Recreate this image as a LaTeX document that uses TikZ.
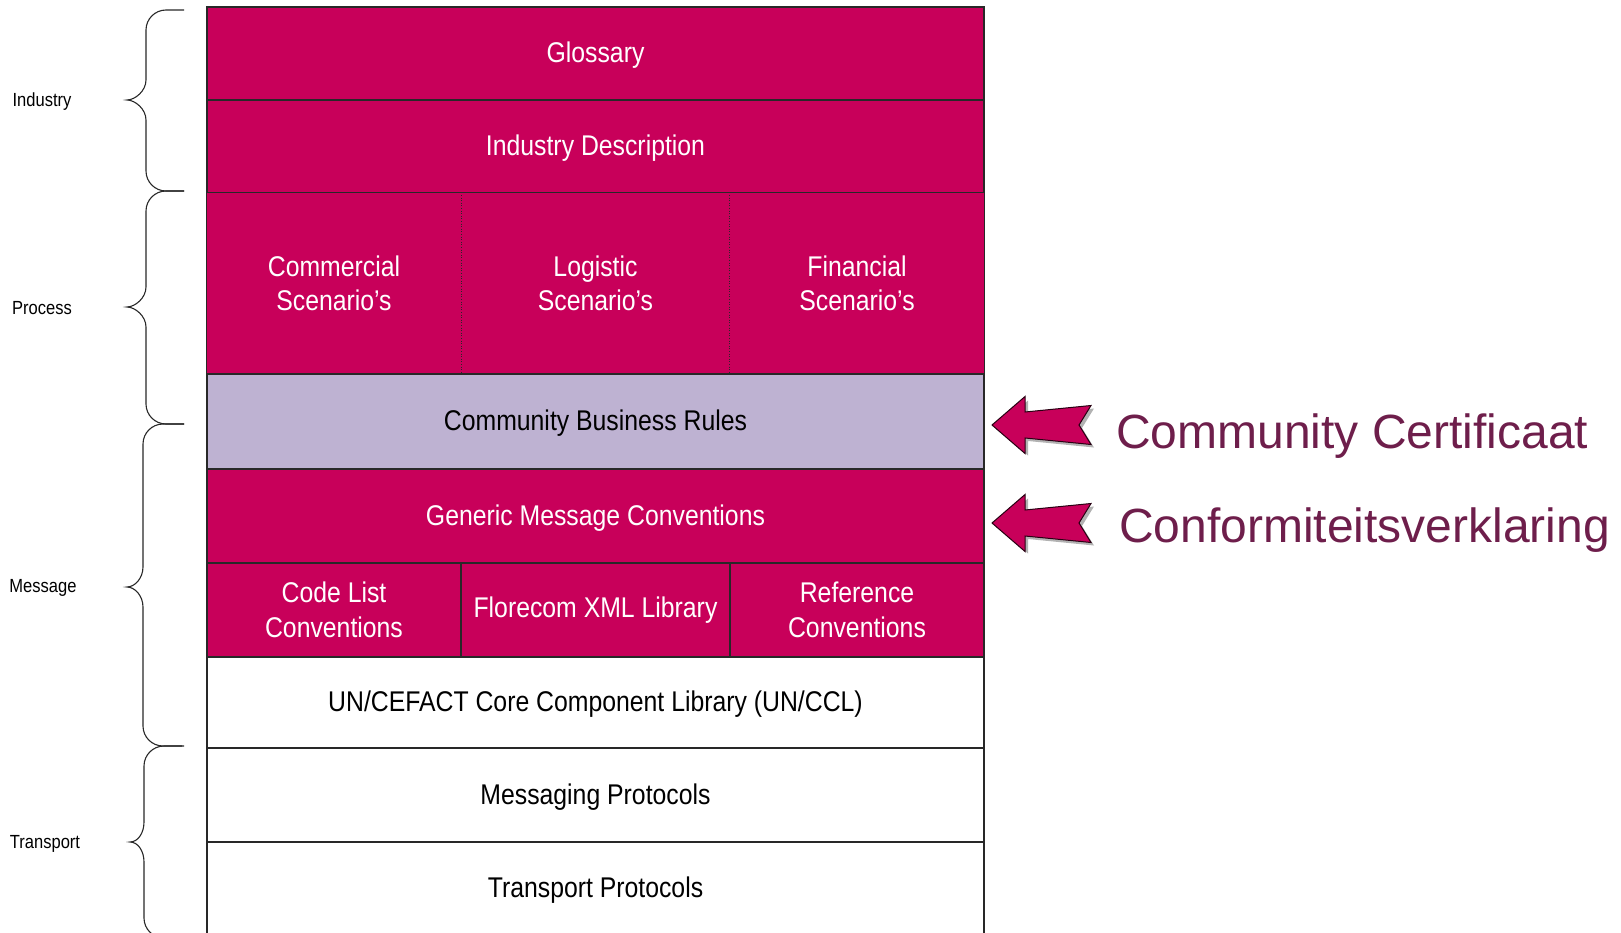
\documentclass[tikz,border=0pt]{standalone}
\usepackage{fontspec}
\setmainfont{Liberation Sans}
\newfontfamily\narrowsf[FakeStretch=0.87]{Liberation Sans}
\definecolor{mag}{RGB}{200,0,90}
\definecolor{lav}{RGB}{190,178,210}
\definecolor{plum}{RGB}{110,30,75}
\definecolor{edge}{RGB}{40,40,40}
\tikzset{
  layer/.style={draw=edge, line width=1.2pt, minimum width=777pt, inner sep=0pt,
    text=black, font=\narrowsf\fontsize{28.5}{35}\selectfont, align=center,
    text height=21pt, text depth=3pt},
  mlayer/.style={layer, fill=mag, text=white},
  cell/.style={draw=edge, line width=1.2pt, inner sep=0pt, fill=mag, text=white,
    font=\narrowsf\fontsize{28.5}{34.5}\selectfont, align=center},
  grouplabel/.style={font=\narrowsf\fontsize{19}{22}\selectfont, text=black},
  bracepath/.style={draw=edge, line width=1.1pt},
  bigarrow/.style={fill=mag, draw=black!80!mag, line width=1pt, line join=miter},
  arrowshadow/.style={fill=black!30},
  bigtext/.style={font=\fontsize{48}{56}\selectfont, text=plum, inner sep=0pt}
}
\newcommand{\mybrace}[6]{% y0, y1, ym, xvert, xtip, xend
  \draw[bracepath] (#6,#1) -- ({#4+20},#1) .. controls ({#4+9},#1) and (#4,{#1+9}) .. (#4,{#1+20})
    -- (#4,{#3-20}) .. controls (#4,{#3-9}) and ({#5+8},#3) .. (#5,#3)
    .. controls ({#5+8},#3) and (#4,{#3+9}) .. (#4,{#3+20}) -- (#4,{#2-20})
    .. controls (#4,{#2-9}) and ({#4+9},#2) .. ({#4+20},#2) -- (#6,#2);}
\begin{document}
\begin{tikzpicture}[x=1pt,y=-1pt]
\useasboundingbox (0,0) rectangle (1621,933);
\clip (0,0) rectangle (1621,933);

% layers
\node[mlayer, minimum height=93pt] (glo) at (595.5,53.5) {Glossary};
\node[mlayer, minimum height=93pt] (ind) at (595.5,146.5) {Industry Description};
\node[cell, minimum width=254pt, minimum height=181pt, draw=none] (com) at (334,283.5) {Commercial\\Scenario’s};
\node[cell, minimum width=269pt, minimum height=181pt, draw=none] (log) at (595.5,283.5) {Logistic\\Scenario’s};
\node[cell, minimum width=254pt, minimum height=181pt, draw=none] (fin) at (857,283.5) {Financial\\Scenario’s};
\draw[edge, line width=1.2pt] (com.north west) rectangle (fin.south east);
\draw[edge, line width=0.6pt, dotted] (com.north east) -- (com.south east);
\draw[edge, line width=0.6pt, dotted] (fin.north west) -- (fin.south west);
\node[layer, fill=lav, minimum height=95pt] (cbr) at (595.5,421.5) {Community Business Rules};
\node[mlayer, minimum height=94pt] (gmc) at (595.5,516) {Generic Message Conventions};
\node[cell, minimum width=254pt, minimum height=94pt] (cod) at (334,610) {Code List\\Conventions};
\node[cell, minimum width=269pt, minimum height=94pt] (flo) at (595.5,610) {Florecom XML Library};
\node[cell, minimum width=254pt, minimum height=94pt] (ref) at (857,610) {Reference\\Conventions};
\node[layer, fill=white, minimum height=91pt] (ccl) at (595.5,702.5) {UN/CEFACT Core Component Library (UN/CCL)};
\node[layer, fill=white, minimum height=94pt] (msg) at (595.5,795) {Messaging Protocols};
\node[layer, fill=white, minimum height=92pt] (trp) at (595.5,888) {Transport Protocols};

% braces
\mybrace{10}{191}{100}{146}{127}{184}
\mybrace{191}{424}{307}{146}{127}{184}
\mybrace{424}{746}{587}{143}{127}{184}
\mybrace{746}{938}{842}{144}{130}{182}

\node[grouplabel] (lind) at (42,102) {Industry};
\node[grouplabel] (lpro) at (42,308) {Process};
\node[grouplabel] (lmes) at (43,588) {Message};
\node[grouplabel] (ltra) at (45,844) {Transport};

% arrows
\foreach \yy in {425,523}{
  \begin{scope}[shift={(992,\yy)}]
    \fill[arrowshadow] (3,3) -- (36,-24.5) -- (36,-10) -- (102,-16.5) -- (90,3) -- (102,22.5) -- (36,16) -- (36,30.5) -- cycle;
    \path[bigarrow] (0,0) -- (33,-28.5) -- (33,-13) -- (99,-19.5) -- (87,0) -- (99,19.5) -- (33,13) -- (33,28.5) -- cycle;
  \end{scope}
}
\node[bigtext, anchor=base west] (cc) at (1116,448) {Community Certificaat};
\node[bigtext, anchor=base west] (cv) at (1119,542) {Conformiteitsverklaring};
\end{tikzpicture}
\end{document}
